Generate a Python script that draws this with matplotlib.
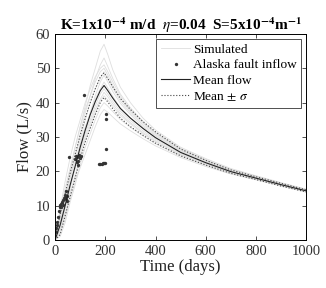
import matplotlib.pyplot as plt

# time axis (days) shared by the simulated, mean and +/- sigma curves
days = [0, 20, 40, 60, 80, 100, 120, 140, 160, 180, 195, 210, 230, 260, 300,
        350, 400, 500, 600, 700, 800, 900, 1000]

mean_flow = [0, 4.3, 10, 16, 21.5, 27, 32, 36.5, 40.3, 43.5, 45, 43.5, 41.3,
             38.3, 35.5, 32.5, 29.8, 25.5, 22.5, 19.9, 18, 16.1, 14.3]
mean_plus = [0, 7.5, 13.5, 19.5, 25, 30.5, 35.5, 40, 44, 47.5, 48.7, 47, 44.6,
             41.2, 38, 34.5, 31.5, 26.5, 23.2, 20.4, 18.4, 16.5, 14.6]
mean_minus = [0, 1.5, 7, 12.5, 18, 23.5, 28.5, 32.5, 36.5, 40, 41.5, 40.2,
              38.2, 35.5, 33, 30.5, 28.2, 24.5, 21.8, 19.4, 17.6, 15.7, 14.0]

simulated = [
    [0, 6, 13, 20, 27, 33, 39, 45, 50, 55, 57, 54, 49.5, 44.5, 40, 35.5, 32, 27, 23.7, 20.8, 18.7, 16.7, 14.8],
    [0, 5, 11, 18, 24, 31, 37, 42, 47, 51, 53, 50.5, 47, 42.5, 38.5, 34.5, 31.3, 26.7, 23.4, 20.6, 18.6, 16.5, 14.7],
    [0, 8, 15, 21, 27, 33, 38, 42, 46, 49, 50, 48, 45, 41.3, 37.5, 34, 31, 26.2, 23.1, 20.4, 18.4, 16.4, 14.6],
    [0, 3, 9, 15, 21, 27, 32, 37, 42, 46, 48, 46, 43.2, 39.8, 36.5, 33, 30.3, 25.9, 22.8, 20.1, 18.2, 16.2, 14.4],
    [0, 6, 12, 18, 23, 28, 33, 37, 41, 44, 46, 44.3, 41.8, 38.5, 35.5, 32.5, 29.7, 25.5, 22.5, 19.9, 18.0, 16.1, 14.3],
    [0, 4, 10, 16, 21, 26, 31, 35, 39, 42.5, 44, 42.5, 40.3, 37.5, 34.8, 31.8, 29.3, 25.2, 22.3, 19.8, 17.9, 16.0, 14.2],
    [0, 2, 8, 13, 19, 24, 29, 33, 37, 40.5, 42, 40.8, 38.9, 36.3, 33.8, 31, 28.6, 24.8, 22, 19.6, 17.8, 15.9, 14.1],
    [0, 1, 5, 11, 16, 22, 27, 31, 35, 38.5, 40, 39, 37.4, 35.1, 32.8, 30.3, 28, 24.4, 21.7, 19.4, 17.6, 15.8, 14.0],
    [0, 3, 7, 12, 17, 21, 25, 29, 33, 36.5, 38, 37.2, 35.8, 33.8, 31.8, 29.5, 27.4, 24, 21.4, 19.2, 17.5, 15.7, 13.9],
    [0, 9, 17, 24, 30, 35, 40, 44, 47.5, 50, 51, 49, 46, 42, 38, 34.2, 31.1, 26.4, 23.2, 20.5, 18.5, 16.4, 14.6],
    [0, 7, 12, 19, 25, 29, 35, 40, 44, 47, 49, 47, 44.2, 40.5, 37, 33.5, 30.6, 26, 22.9, 20.2, 18.3, 16.3, 14.5],
    [0, 2, 6, 14, 18, 25, 30, 34, 38, 41, 43, 41.7, 39.6, 36.8, 34.2, 31.3, 28.9, 24.9, 22.1, 19.7, 17.8, 15.9, 14.2],
]

# observed inflow at the Alaska fault
obs_days = [3, 5, 7, 9, 12, 15, 18, 20, 22, 24, 26, 28, 30, 33, 36, 38, 40, 42,
            44, 46, 48, 56, 80, 84, 86, 88, 90, 92, 95, 98, 100, 104, 116, 175,
            180, 185, 190, 195, 200, 203, 203, 203]
obs_flow = [2.4, 3.5, 4.4, 5.2, 6.8, 8.5, 9.7, 10.2, 9.5, 10.5, 11, 10.8, 10.2,
            11.5, 12.3, 13, 12.5, 14.2, 12, 11.2, 12.8, 24.1, 23.5, 24.5, 22.8,
            24.2, 23, 21.8, 24.6, 23.8, 24.4, 24.5, 42.1, 22.1, 22.2, 22.2, 22.3,
            22.4, 22.4, 26.6, 35.3, 36.6]

plt.rcParams['font.family'] = 'Liberation Serif'
plt.rcParams['mathtext.fontset'] = 'stix'

fig = plt.figure(figsize=(3.26, 2.88), dpi=100)
ax = fig.add_axes([0.169, 0.167, 0.770, 0.715])

for i, sim in enumerate(simulated):
    ax.plot(days, sim, color='#dedede', lw=0.6,
            label='Simulated' if i == 0 else None)
ax.plot(obs_days, obs_flow, 'o', color='#333333', ms=2.4, mew=0,
        label='Alaska fault inflow')
ax.plot(days, mean_flow, color='#222222', lw=0.8, label='Mean flow')
ax.plot(days, mean_plus, ':', color='#444444', lw=0.8,
        label=r'Mean $\pm$ $\sigma$')
ax.plot(days, mean_minus, ':', color='#444444', lw=0.8)

ax.set_xlim(0, 1000)
ax.set_ylim(0, 60)
ax.set_xticks([0, 200, 400, 600, 800, 1000])
ax.set_yticks([0, 10, 20, 30, 40, 50, 60])
ax.tick_params(direction='in', top=True, right=True, labelsize=10.5,
               length=3, width=0.6, colors='#333333')
for s in ax.spines.values():
    s.set_linewidth(0.7)

ax.set_xlabel('Time (days)', fontsize=12, color='#222222', labelpad=1)
ax.set_ylabel('Flow (L/s)', fontsize=12, color='#222222', labelpad=2)
ax.set_title(r'K=1x10$^{\mathbf{-4}}$ m/d  $\eta$=0.04  '
             r'S=5x10$^{\mathbf{-4}}$m$^{\mathbf{-1}}$',
             fontsize=11, fontweight='bold', pad=3)

leg = ax.legend(loc='upper right', fontsize=9.6, frameon=True, fancybox=False,
                edgecolor='#222222', handlelength=2.2, handletextpad=0.2,
                borderpad=0.35, labelspacing=0.25, borderaxespad=0.35)
leg.get_frame().set_linewidth(0.7)

plt.savefig('out.png', dpi=100)
